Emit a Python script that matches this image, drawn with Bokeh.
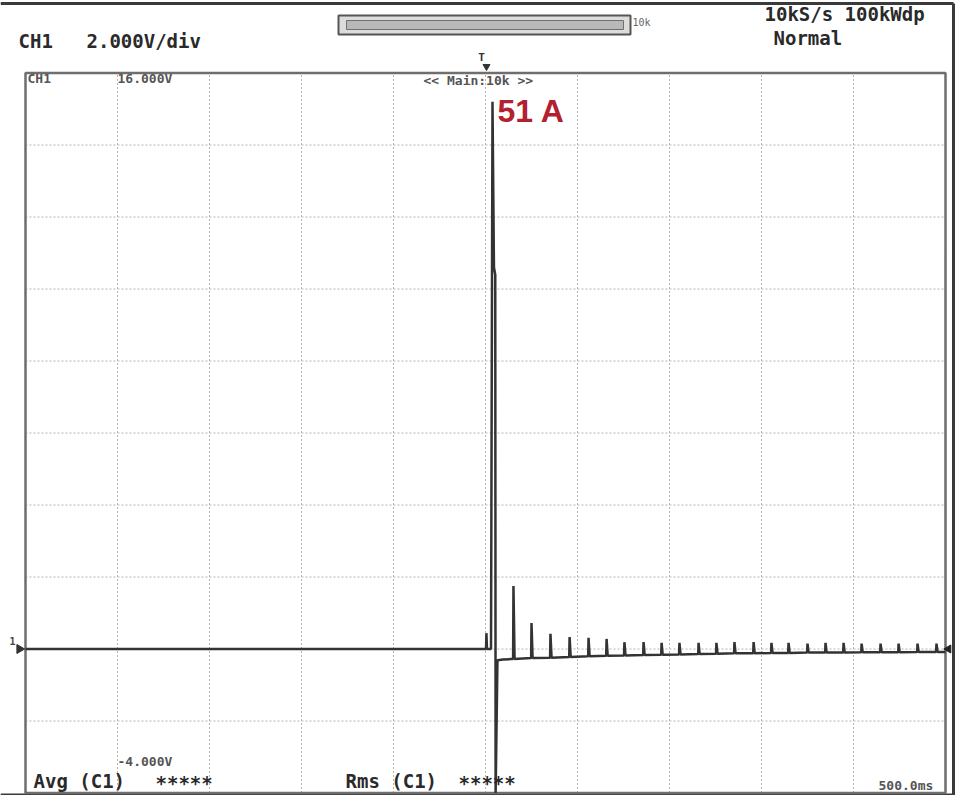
import math
from bokeh.plotting import figure
from bokeh.models import Range1d, Label
from bokeh.embed import file_html
from bokeh.resources import INLINE

volts_per_div = 2.0
sec_per_div = 0.5
v_top = 16.0
v_bottom = -4.0
t_left = -2.5
t_right = 2.5

# pre-trigger trace and the main inrush surge (time in s from trigger, volts)
surge_t = [-2.5, -0.004, 0.003, 0.005, 0.008, 0.030, 0.038, 0.046, 0.053, 0.055, 0.065, 0.095, 0.140]
surge_v = [0.0, 0.0, 0.0, 0.44, 0.0, 0.0, 15.2, 10.6, 10.4, -4.0, -0.31, -0.29, -0.28]

# decaying ripple spikes after the surge
ripple_t = [0.152, 0.250, 0.353, 0.457, 0.560, 0.658, 0.755, 0.859, 0.957, 1.054,
            1.158, 1.255, 1.353, 1.457, 1.554, 1.647, 1.750, 1.848, 1.946, 2.044,
            2.147, 2.245, 2.348, 2.451]
ripple_peak = [1.75, 0.72, 0.42, 0.33, 0.31, 0.28, 0.19, 0.19, 0.17, 0.17,
               0.17, 0.17, 0.19, 0.19, 0.17, 0.17, 0.15, 0.17, 0.17, 0.15,
               0.15, 0.15, 0.15, 0.15]
ripple_base = [-0.28, -0.25, -0.24, -0.22, -0.20, -0.19, -0.18, -0.17, -0.16, -0.15,
               -0.14, -0.13, -0.12, -0.12, -0.11, -0.11, -0.10, -0.10, -0.10, -0.09,
               -0.09, -0.09, -0.08, -0.08]
end_t = 2.5
end_v = -0.08

peak_label = "51 A"

# ---------------- layout helpers (reference pixel -> data) ----------------
W, H = 955, 795
S_PER_PX = (t_right - t_left) / 920.0
V_PER_PX = (v_top - v_bottom) / 720.0


def X(px):
    return t_left + (px - 25.0) * S_PER_PX


def Y(py):
    return v_top - (py - 72.5) * V_PER_PX


p = figure(width=W, height=H, output_backend="svg", toolbar_location=None,
           x_range=Range1d(X(0), X(W)), y_range=Range1d(Y(H), Y(0)),
           x_axis_location=None, y_axis_location=None, min_border=0)
p.outline_line_color = None
p.xgrid.visible = False
p.ygrid.visible = False
p.background_fill_color = "white"
p.border_fill_color = "white"

# outer border of the screen
p.segment(x0=[X(0), X(953)], y0=[Y(3), Y(3)], x1=[X(953), X(953)], y1=[Y(3), Y(795)],
          line_color="#3a3a3a", line_width=3)
p.segment(x0=[X(0)], y0=[Y(794)], x1=[X(953)], y1=[Y(794)], line_color="#3a3a3a", line_width=2)

# dotted graticule
gx = [t_left + k * sec_per_div for k in range(1, 10)]
gy = [v_bottom + k * volts_per_div for k in range(1, 10)]
p.segment(x0=gx, y0=[v_bottom] * len(gx), x1=gx, y1=[v_top] * len(gx),
          line_color="#b4b4b4", line_width=1, line_dash="2 2")
p.segment(x0=[t_left] * len(gy), y0=gy, x1=[t_right] * len(gy), y1=gy,
          line_color="#b4b4b4", line_width=1, line_dash="2 2")

# graticule frame
p.quad(left=[t_left], right=[t_right], bottom=[v_bottom], top=[v_top],
       fill_color=None, line_color="#6e6e6e", line_width=2.5)

# zoom bar at the top
p.quad(left=[X(338)], right=[X(630)], bottom=[Y(34)], top=[Y(15)],
       fill_color="#dcdcdc", line_color="#555555", line_width=2)
p.quad(left=[X(346)], right=[X(623)], bottom=[Y(29)], top=[Y(20)],
       fill_color="#b8b8b8", line_color="#707070", line_width=1)

# trace
tt = list(surge_t)
vv = list(surge_v)
for t, pk, b in zip(ripple_t, ripple_peak, ripple_base):
    tt += [t - 0.002, t, t + 0.006]
    vv += [b, pk, b]
tt.append(end_t)
vv.append(end_v)
p.line(tt, vv, line_color="#333333", line_width=2.5)

# ground / end markers and trigger marker
p.scatter(x=[X(19)], y=[0.0], marker="triangle", angle=-math.pi / 2, size=9, color="#333333")
p.scatter(x=[X(948)], y=[0.0], marker="triangle", angle=math.pi / 2, size=8, color="#222222")
p.scatter(x=[X(486)], y=[Y(66)], marker="inverted_triangle", size=7, color="#333333")

MONO = "DejaVu Sans Mono"


def lab(px, py, text, size, color="#2a2a2a", font=MONO, style="normal", align="left"):
    p.add_layout(Label(x=X(px), y=Y(py), text=text, text_font=font,
                       text_font_size=f"{size}px", text_color=color,
                       text_font_style=style, text_baseline="middle", text_align=align))


lab(18, 40, "CH1", 19, style="bold")
lab(86, 40, "2.000V/div", 19, style="bold")
lab(764, 13, "10kS/s 100kWdp", 19, style="bold")
lab(773, 37, "Normal", 19, style="bold")
lab(632, 22, "10k", 10, color="#666666")
lab(481, 57, "T", 11, color="#333333", style="bold", align="center")
lab(12, 640, "1", 10, color="#444444", style="bold", align="center")

lab(27, 78, "CH1", 13, color="#555555", style="bold")
lab(117, 78, "16.000V", 13, color="#555555", style="bold")
lab(423, 80, "<< Main:10k >>", 13, color="#555555", style="bold")
lab(117, 761, "-4.000V", 13, color="#555555", style="bold")
lab(878, 785, "500.0ms", 13, color="#555555", style="bold")

lab(33, 780, "Avg (C1)", 19, style="bold")
lab(155, 782, "*****", 19, style="bold")
lab(345, 780, "Rms (C1)", 19, style="bold")
lab(458, 782, "*****", 19, style="bold")

p.add_layout(Label(x=X(497), y=Y(110), text=peak_label, text_font="Liberation Sans",
                   text_font_size="32px", text_font_style="bold", text_color="#b3202f",
                   text_baseline="middle", text_align="left"))

open("out.html", "w").write(file_html(p, INLINE))
